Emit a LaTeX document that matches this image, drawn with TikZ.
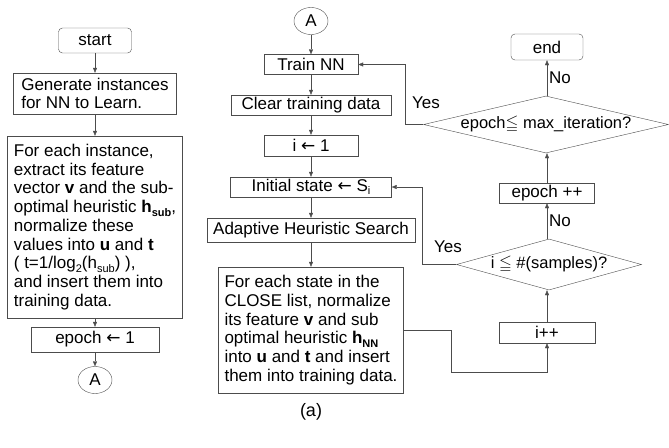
\documentclass[tikz,border=0pt]{standalone}
\usepackage{amssymb}
\usepackage{fontspec}
\setmainfont{Liberation Sans}
\newfontfamily\symfont{DejaVu Sans}
\usepackage{tikz}
\usetikzlibrary{shapes.geometric,arrows.meta,positioning,calc}

\definecolor{linegray}{gray}{0.3}
\newcommand{\lowtxt}[1]{\raisebox{-0.4ex}{\fontsize{11}{11}\selectfont #1}}
\newcommand{\getsym}{{\symfont\fontsize{17}{17}\selectfont ←}}

\tikzset{
  box/.style={draw=linegray, inner sep=0pt, font=\fontsize{17}{18.7}\selectfont},
  termbox/.style={box, rounded corners=4pt},
  textbox/.style={box, align=left},
  conn/.style={draw=linegray, ellipse, minimum width=34pt, minimum height=27pt, inner sep=0pt, font=\fontsize{17}{18}\selectfont},
  decide/.style={draw=linegray, diamond, inner sep=0pt, font=\fontsize{16.5}{18}\selectfont},
  lbl/.style={inner sep=2pt, font=\fontsize{17}{18}\selectfont},
  arr/.style={draw=linegray, -{Triangle[length=5pt,width=4pt]}},
  line/.style={draw=linegray}
}

\begin{document}
\begin{tikzpicture}[x=1pt,y=-1pt]
  \useasboundingbox (0,0) rectangle (669,447);

  % left column
  \node[termbox, minimum width=73pt, minimum height=25pt] (start) at (95,40.5) {start};
  \node[textbox, minimum width=163pt, minimum height=41pt] (gen) at (95,93.5)
    {Generate instances\\for NN to Learn.};
  \node[textbox, minimum width=175pt, minimum height=182pt] (inst) at (95,227)
    {For each instance,\\
     extract its feature\\
     vector \textbf{v} and the sub-\\
     optimal heuristic \textbf{h}\lowtxt{\textbf{sub}},\\
     normalize these\\
     values into \textbf{u} and \textbf{t}\\
     ( t=1/log\lowtxt{2}(h\lowtxt{sub}) ),\\
     and insert them into\\
     training data.};
  \node[box, minimum width=128pt, minimum height=25pt] (ep1) at (95,339.5) {epoch \getsym\ 1};
  \node[conn] (A1) at (95,380) {A};

  \draw[arr] (start) -- (gen);
  \draw[arr] (gen) -- (inst);
  \draw[arr] (inst) -- (ep1);
  \draw[arr] (ep1) -- (A1);

  % middle column
  \node[conn] (A2) at (311,21) {A};
  \node[box, minimum width=94pt, minimum height=20pt] (train) at (311,64.5) {Train NN};
  \node[box, minimum width=160pt, minimum height=20pt] (clear) at (311,105) {Clear training data};
  \node[box, minimum width=94pt, minimum height=21pt] (iset) at (311,145.5) {i \getsym\ 1};
  \node[box, minimum width=161pt, minimum height=20pt] (init) at (311,187) {Initial state \getsym\ S\lowtxt{i}};
  \node[box, minimum width=208pt, minimum height=24pt] (ahs) at (311,230) {Adaptive Heuristic Search};
  \node[textbox, minimum width=185pt, minimum height=126pt] (close) at (311,330)
    {For each state in the\\
     CLOSE list, normalize\\
     its feature \textbf{v} and sub\\
     optimal heuristic \textbf{h}\lowtxt{\textbf{NN}}\\
     into \textbf{u} and \textbf{t} and insert\\
     them into training data.};
  \node[lbl, font=\fontsize{18}{20}\selectfont] (cap) at (311,412) {(a)};

  \draw[arr] (A2) -- (train);
  \draw[arr] (train) -- (clear);
  \draw[arr] (clear) -- (iset);
  \draw[arr] (iset) -- (init);
  \draw[arr] (init) -- (ahs);
  \draw[arr] (ahs) -- (close);

  % right column
  \node[termbox, minimum width=72pt, minimum height=26pt] (end) at (547,47) {end};
  \node[decide, aspect=4.3, minimum width=245pt, minimum height=57pt] (dmax) at (546,124.5)
    {epoch$\leqq$ max\_iteration?};
  \node[box, minimum width=95pt, minimum height=20pt] (epinc) at (547,193) {epoch ++};
  \node[decide, aspect=3.6, minimum width=185pt, minimum height=51pt] (dsmp) at (549,264.5)
    {i $\leqq$ \#(samples)?};
  \node[box, minimum width=96pt, minimum height=21pt] (inc) at (547,332.5) {i++};

  \coordinate (bend) at (451,372);
  \draw[line] (close.east) -| (bend);
  \draw[arr] (bend) -| (inc.south);
  \draw[arr] (inc) -- (inc |- dsmp.south);
  \draw[arr] (inc |- dsmp.north) -- node[lbl, right] (no2) {No} (epinc);
  \draw[arr] (epinc) -- (epinc |- dmax.south);
  \draw[arr] (epinc |- dmax.north) -- node[lbl, right] (no1) {No} (end);

  % yes loops
  \draw[arr] (dmax.west) -- ++(-18,0) |- (train.east);
  \node[lbl] (yes1) at (426,103) {Yes};
  \draw[arr] (dsmp.west) -- ++(-34,0) |- (init.east);
  \node[lbl] (yes2) at (448,247) {Yes};
\end{tikzpicture}
\end{document}
